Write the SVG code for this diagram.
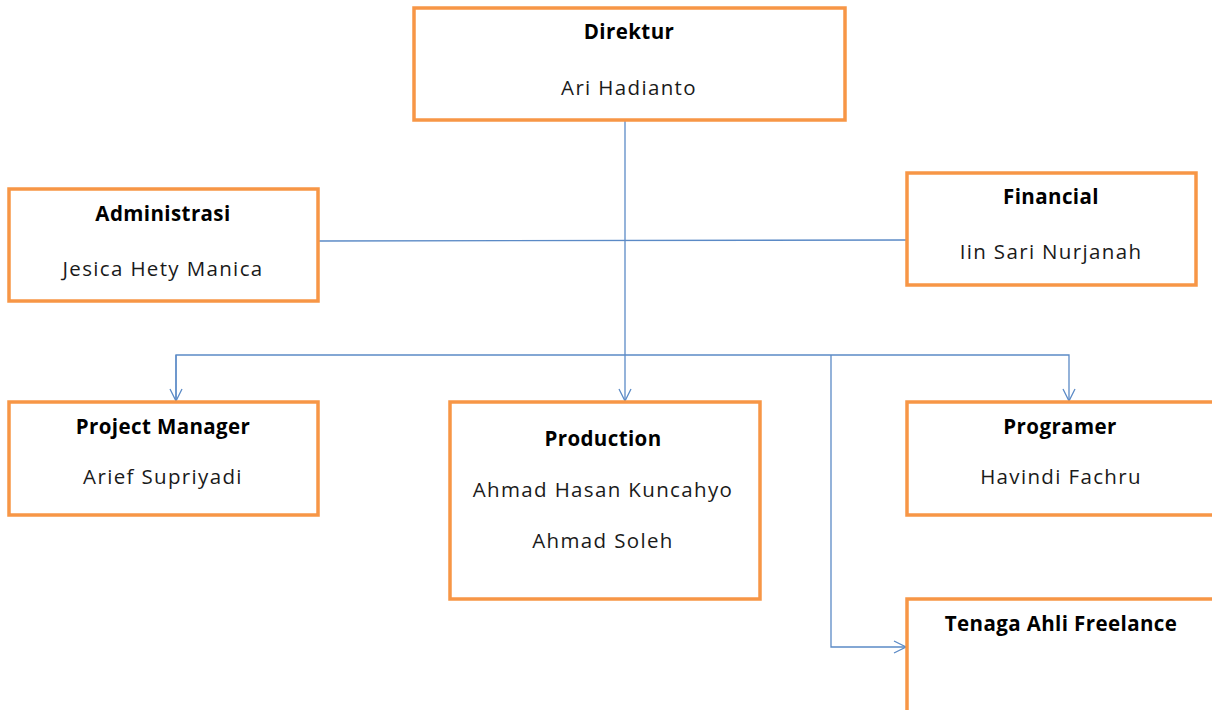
<svg xmlns="http://www.w3.org/2000/svg" width="1212" height="710" viewBox="0 0 1212 710">
<style>
.box{fill:#fff;stroke:#F79646;stroke-width:3.5}
.c{fill:none;stroke:#5B8AC6;stroke-width:1.3}
.t{font-family:"Open Sans","Liberation Sans",sans-serif;font-size:20.5px;fill:#1a1a1a;text-anchor:middle;letter-spacing:1.35px}
.b{font-weight:bold;fill:#000;letter-spacing:0.4px}
</style>
<defs>
<marker id="arr" viewBox="0 0 14 14" refX="13" refY="7" markerWidth="14" markerHeight="14" markerUnits="userSpaceOnUse" orient="auto">
<path d="M1,1 L13,7 L1,13" fill="none" stroke="#5B8AC6" stroke-width="1.3"/>
</marker>
</defs>
<rect width="1212" height="710" fill="#fff"/>
<g id="connectors">
<line class="c" x1="625" y1="120" x2="625" y2="401" marker-end="url(#arr)"/>
<line class="c" x1="318" y1="241" x2="907" y2="240"/>
<path class="c" d="M176,401 V355 H1069 V401" marker-end="url(#arr)"/>
<line class="c" x1="176" y1="355" x2="176" y2="401" marker-end="url(#arr)"/>
<path class="c" d="M831,355 V647 H906" marker-end="url(#arr)"/>
</g>
<g id="direktur">
<rect class="box" x="414" y="8" width="431" height="112"/>
<text class="t b" x="629" y="39">Direktur</text>
<text class="t" x="629" y="95">Ari Hadianto</text>
</g>
<g id="administrasi">
<rect class="box" x="9" y="189" width="309" height="112"/>
<text class="t b" x="163" y="221">Administrasi</text>
<text class="t" x="163" y="276">Jesica Hety Manica</text>
</g>
<g id="financial">
<rect class="box" x="907" y="173" width="289" height="112"/>
<text class="t b" x="1051" y="204">Financial</text>
<text class="t" x="1051" y="259">Iin Sari Nurjanah</text>
</g>
<g id="project-manager">
<rect class="box" x="9" y="402" width="309" height="113"/>
<text class="t b" x="163" y="434">Project Manager</text>
<text class="t" x="163" y="484">Arief Supriyadi</text>
</g>
<g id="production">
<rect class="box" x="450" y="402" width="310" height="197"/>
<text class="t b" x="603" y="446">Production</text>
<text class="t" x="603" y="497">Ahmad Hasan Kuncahyo</text>
<text class="t" x="603" y="548">Ahmad Soleh</text>
</g>
<g id="programer">
<rect class="box" x="907" y="402" width="308" height="113"/>
<text class="t b" x="1060" y="434">Programer</text>
<text class="t" x="1061" y="484">Havindi Fachru</text>
</g>
<g id="tenaga-ahli">
<rect class="box" x="907" y="599" width="308" height="115"/>
<text class="t b" x="1061" y="631">Tenaga Ahli Freelance</text>
</g>
</svg>
